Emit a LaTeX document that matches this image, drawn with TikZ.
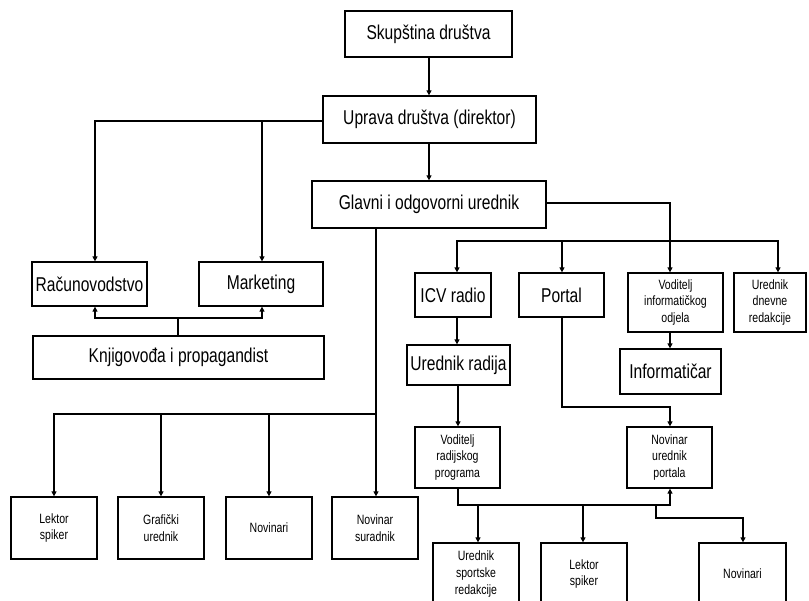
\documentclass[tikz,border=0pt]{standalone}
\usepackage{fontspec}
\setmainfont[FakeStretch=0.78]{Liberation Sans}
\usetikzlibrary{arrows.meta}
\begin{document}
\begin{tikzpicture}[x=1pt,y=-1pt,
  box/.style={draw,line width=1.3pt,inner sep=0pt,align=center},
  big/.style={box,font=\fontsize{20}{23}\selectfont},
  small/.style={box,font=\fontsize{13.5}{16.8}\selectfont},
  conn/.style={line width=1.2pt},
  arr/.style={conn,-{Triangle[width=5pt,length=5pt]}}]
\useasboundingbox (0,0) rectangle (809,601);
\clip (0,0) rectangle (809,601);
% boxes
\node[big,minimum width=167pt,minimum height=46pt] (skup) at (428.5,34) {Skupština društva};
\node[big,minimum width=213pt,minimum height=47pt] (uprava) at (429.5,119.5) {Uprava društva (direktor)};
\node[big,minimum width=234pt,minimum height=47pt] (glavni) at (429,204.5) {Glavni i odgovorni urednik};
\node[big,minimum width=115pt,minimum height=44pt] (racun) at (89.5,284) {Računovodstvo};
\node[big,minimum width=124pt,minimum height=44pt] (market) at (261,284) {Marketing};
\node[big,minimum width=291pt,minimum height=43pt] (knjig) at (178.5,357.5) {Knjigovođa i propagandist};
\node[big,minimum width=76pt,minimum height=44pt] (icv) at (453,295) {ICV radio};
\node[big,minimum width=85pt,minimum height=44pt] (portal) at (561.5,295) {Portal};
\node[small,minimum width=95pt,minimum height=59pt] (vodinf) at (675.5,302.5) {Voditelj\\informatičkog\\odjela};
\node[small,minimum width=72pt,minimum height=59pt] (urdnev) at (770,302.5) {Urednik\\dnevne\\redakcije};
\node[big,minimum width=103pt,minimum height=40pt] (urrad) at (458.5,365) {Urednik radija};
\node[big,minimum width=101pt,minimum height=45pt] (inform) at (670.5,371.5) {Informatičar};
\node[small,minimum width=86pt,minimum height=62pt] (lek1) at (54,528) {Lektor\\spiker};
\node[small,minimum width=86pt,minimum height=62pt] (graf) at (161,528) {Grafički\\urednik};
\node[small,minimum width=86pt,minimum height=62pt] (nov1) at (269,528) {Novinari};
\node[small,minimum width=86pt,minimum height=62pt] (novsur) at (375,528) {Novinar\\suradnik};
\node[small,minimum width=85pt,minimum height=61pt] (vodrad) at (457.5,457.5) {Voditelj\\radijskog\\programa};
\node[small,minimum width=85pt,minimum height=61pt] (novurp) at (669.5,457.5) {Novinar\\urednik\\portala};
\node[small,minimum width=86pt,minimum height=62pt] (ursport) at (476,574) {Urednik\\sportske\\redakcije};
\node[small,minimum width=86pt,minimum height=62pt] (lek2) at (584,574) {Lektor\\spiker};
\node[small,minimum width=87pt,minimum height=62pt] (nov2) at (742.5,574) {Novinari};
% helper coordinates
\coordinate (ax) at (429,0);
\coordinate (lx1) at (95,121);
\coordinate (lx2) at (262,121);
\coordinate (kb) at (178,318);
\coordinate (gdown) at (376,414);
\coordinate (gr) at (670,203);
\coordinate (rb) at (670,241);
\coordinate (rb1) at (457,241);
\coordinate (rb2) at (562,241);
\coordinate (rb4) at (778,241);
\coordinate (pd) at (562,407);
\coordinate (pr) at (670,407);
\coordinate (vb) at (458,505);
\coordinate (vb2) at (670,505);
\coordinate (vs1) at (478,505);
\coordinate (vs2) at (583,505);
\coordinate (vs3) at (656,505);
\coordinate (vs3b) at (656,518);
\coordinate (vs4) at (743,518);
% connectors
\draw[arr] (skup.south -| ax) -- (uprava.north -| ax);
\draw[arr] (uprava.south -| ax) -- (glavni.north -| ax);
\draw[arr] (uprava.west |- lx1) -- (lx1) -- (lx1 |- racun.north);
\draw[arr] (lx2) -- (lx2 |- market.north);
\draw[conn] (knjig.north -| kb) -- (kb);
\draw[arr] (kb) -- (kb -| lx1) -- (lx1 |- racun.south);
\draw[arr] (kb) -- (kb -| lx2) -- (lx2 |- market.south);
\draw[arr] (glavni.south -| gdown) -- (gdown) -- (novsur.north -| gdown);
\draw[arr] (gdown) -- (gdown -| lek1) -- (lek1.north);
\draw[arr] (gdown -| graf) -- (graf.north);
\draw[arr] (gdown -| nov1) -- (nov1.north);
\draw[conn] (glavni.east |- gr) -- (gr) -- (rb);
\draw[arr] (rb) -- (rb1) -- (rb1 |- icv.north);
\draw[arr] (rb) -- (rb4) -- (rb4 |- urdnev.north);
\draw[arr] (rb2) -- (rb2 |- portal.north);
\draw[arr] (rb) -- (rb |- vodinf.north);
\draw[arr] (icv.south -| rb1) -- (urrad.north -| rb1);
\draw[arr] (vodinf.south -| rb) -- (inform.north -| rb);
\draw[arr] (portal.south -| pd) -- (pd) -- (pr) -- (pr |- novurp.north);
\draw[arr] (urrad.south -| vb) -- (vodrad.north -| vb);
\draw[arr] (vodrad.south -| vb) -- (vb) -- (vb2) -- (vb2 |- novurp.south);
\draw[arr] (vs1) -- (vs1 |- ursport.north);
\draw[arr] (vs2) -- (vs2 |- lek2.north);
\draw[arr] (vs3) -- (vs3b) -- (vs4) -- (vs4 |- nov2.north);
\end{tikzpicture}
\end{document}
